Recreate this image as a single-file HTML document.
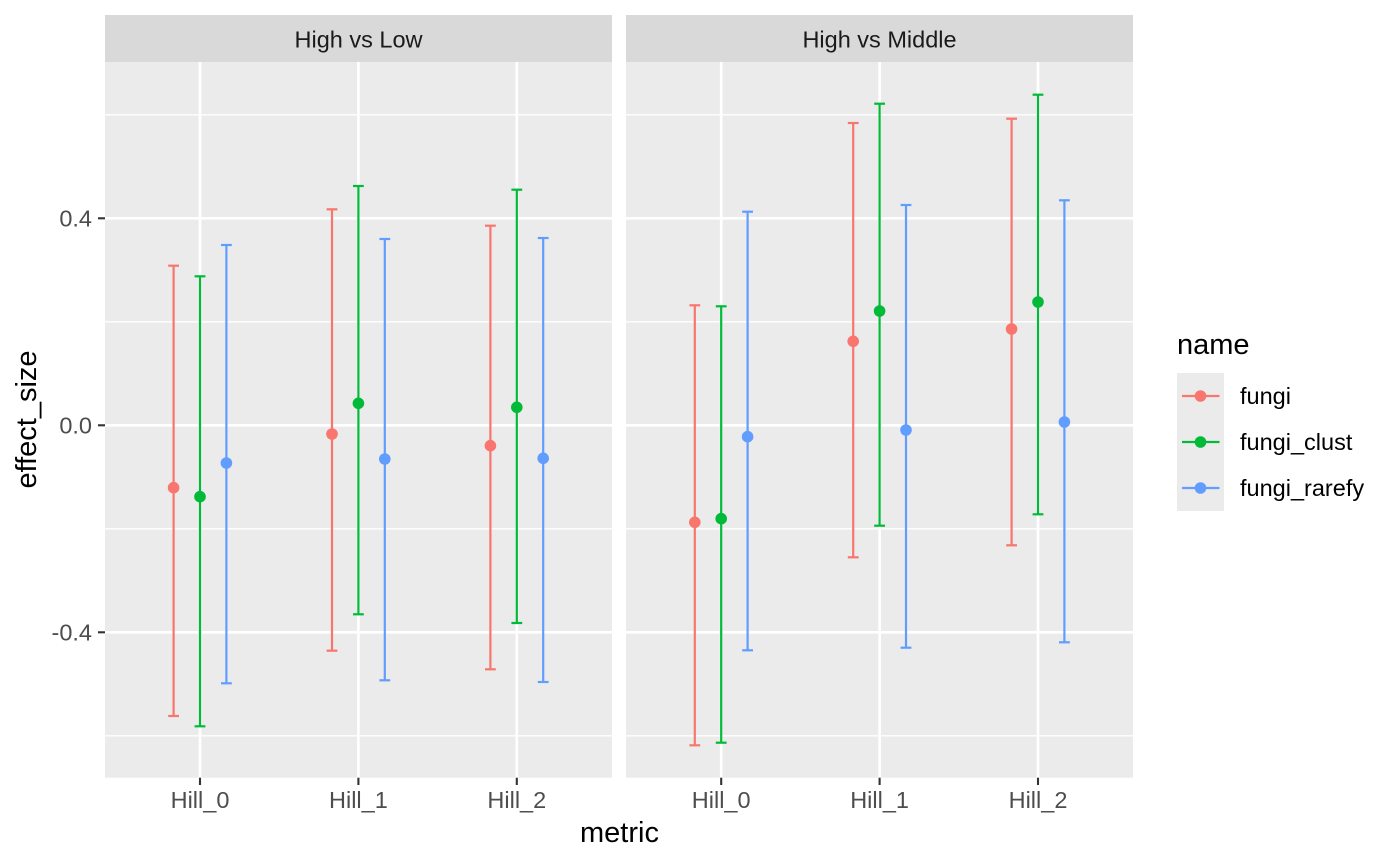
<!DOCTYPE html>
<html>
<head>
<meta charset="utf-8">
<style>
html,body{margin:0;padding:0;background:#fff;}
svg{display:block;}
text{font-family:"Liberation Sans",sans-serif;}
</style>
</head>
<body>
<svg width="1400" height="866" viewBox="0 0 1400 866" xmlns="http://www.w3.org/2000/svg">
<rect x="0" y="0" width="1400" height="866" fill="#ffffff"/>

<!-- Strips -->
<rect x="105" y="15" width="507" height="47" fill="#d9d9d9"/>
<rect x="626" y="15" width="507" height="47" fill="#d9d9d9"/>
<text x="358.5" y="47.5" font-size="23.5" fill="#1a1a1a" text-anchor="middle">High vs Low</text>
<text x="879.5" y="47.5" font-size="23.5" fill="#1a1a1a" text-anchor="middle">High vs Middle</text>

<!-- Panels -->
<rect x="105" y="62" width="507" height="715.7" fill="#ebebeb"/>
<rect x="626" y="62" width="507" height="715.7" fill="#ebebeb"/>

<!-- Minor gridlines -->
<g stroke="#ffffff" stroke-width="1.4">
<line x1="105" x2="612" y1="114.8" y2="114.8"/>
<line x1="105" x2="612" y1="321.8" y2="321.8"/>
<line x1="105" x2="612" y1="528.8" y2="528.8"/>
<line x1="105" x2="612" y1="735.8" y2="735.8"/>
<line x1="626" x2="1133" y1="114.8" y2="114.8"/>
<line x1="626" x2="1133" y1="321.8" y2="321.8"/>
<line x1="626" x2="1133" y1="528.8" y2="528.8"/>
<line x1="626" x2="1133" y1="735.8" y2="735.8"/>
</g>
<!-- Major gridlines -->
<g stroke="#ffffff" stroke-width="2.7">
<line x1="105" x2="612" y1="218.3" y2="218.3"/>
<line x1="105" x2="612" y1="425.3" y2="425.3"/>
<line x1="105" x2="612" y1="632.3" y2="632.3"/>
<line x1="626" x2="1133" y1="218.3" y2="218.3"/>
<line x1="626" x2="1133" y1="425.3" y2="425.3"/>
<line x1="626" x2="1133" y1="632.3" y2="632.3"/>
<line x1="200" x2="200" y1="62" y2="777.7"/>
<line x1="358.4" x2="358.4" y1="62" y2="777.7"/>
<line x1="516.8" x2="516.8" y1="62" y2="777.7"/>
<line x1="721.2" x2="721.2" y1="62" y2="777.7"/>
<line x1="879.6" x2="879.6" y1="62" y2="777.7"/>
<line x1="1038" x2="1038" y1="62" y2="777.7"/>
</g>

<!-- Error bars & points: Panel 1 -->
<g stroke-width="2.2" fill="none">
<!-- Hill_0 -->
<g stroke="#F8766D"><line x1="173.6" x2="173.6" y1="265.7" y2="716"/><line x1="168.2" x2="179" y1="265.7" y2="265.7"/><line x1="168.2" x2="179" y1="716" y2="716"/></g>
<g stroke="#00BA38"><line x1="200" x2="200" y1="276.3" y2="726.3"/><line x1="194.6" x2="205.4" y1="276.3" y2="276.3"/><line x1="194.6" x2="205.4" y1="726.3" y2="726.3"/></g>
<g stroke="#619CFF"><line x1="226.4" x2="226.4" y1="245" y2="683.3"/><line x1="221" x2="231.8" y1="245" y2="245"/><line x1="221" x2="231.8" y1="683.3" y2="683.3"/></g>
<!-- Hill_1 -->
<g stroke="#F8766D"><line x1="332" x2="332" y1="209.3" y2="650.7"/><line x1="326.6" x2="337.4" y1="209.3" y2="209.3"/><line x1="326.6" x2="337.4" y1="650.7" y2="650.7"/></g>
<g stroke="#00BA38"><line x1="358.4" x2="358.4" y1="186" y2="614.3"/><line x1="353" x2="363.8" y1="186" y2="186"/><line x1="353" x2="363.8" y1="614.3" y2="614.3"/></g>
<g stroke="#619CFF"><line x1="384.8" x2="384.8" y1="239" y2="680.3"/><line x1="379.4" x2="390.2" y1="239" y2="239"/><line x1="379.4" x2="390.2" y1="680.3" y2="680.3"/></g>
<!-- Hill_2 -->
<g stroke="#F8766D"><line x1="490.4" x2="490.4" y1="225.7" y2="669.3"/><line x1="485" x2="495.8" y1="225.7" y2="225.7"/><line x1="485" x2="495.8" y1="669.3" y2="669.3"/></g>
<g stroke="#00BA38"><line x1="516.8" x2="516.8" y1="189.7" y2="623"/><line x1="511.4" x2="522.2" y1="189.7" y2="189.7"/><line x1="511.4" x2="522.2" y1="623" y2="623"/></g>
<g stroke="#619CFF"><line x1="543.2" x2="543.2" y1="238" y2="682"/><line x1="537.8" x2="548.6" y1="238" y2="238"/><line x1="537.8" x2="548.6" y1="682" y2="682"/></g>

<!-- Panel 2 -->
<!-- Hill_0 -->
<g stroke="#F8766D"><line x1="694.8" x2="694.8" y1="305.3" y2="745.3"/><line x1="689.4" x2="700.2" y1="305.3" y2="305.3"/><line x1="689.4" x2="700.2" y1="745.3" y2="745.3"/></g>
<g stroke="#00BA38"><line x1="721.2" x2="721.2" y1="306.3" y2="742.7"/><line x1="715.8" x2="726.6" y1="306.3" y2="306.3"/><line x1="715.8" x2="726.6" y1="742.7" y2="742.7"/></g>
<g stroke="#619CFF"><line x1="747.6" x2="747.6" y1="211.7" y2="650.3"/><line x1="742.2" x2="753" y1="211.7" y2="211.7"/><line x1="742.2" x2="753" y1="650.3" y2="650.3"/></g>
<!-- Hill_1 -->
<g stroke="#F8766D"><line x1="853.2" x2="853.2" y1="123" y2="557.3"/><line x1="847.8" x2="858.6" y1="123" y2="123"/><line x1="847.8" x2="858.6" y1="557.3" y2="557.3"/></g>
<g stroke="#00BA38"><line x1="879.6" x2="879.6" y1="103.7" y2="525.7"/><line x1="874.2" x2="885" y1="103.7" y2="103.7"/><line x1="874.2" x2="885" y1="525.7" y2="525.7"/></g>
<g stroke="#619CFF"><line x1="906" x2="906" y1="205" y2="647.7"/><line x1="900.6" x2="911.4" y1="205" y2="205"/><line x1="900.6" x2="911.4" y1="647.7" y2="647.7"/></g>
<!-- Hill_2 -->
<g stroke="#F8766D"><line x1="1011.6" x2="1011.6" y1="118.7" y2="545.3"/><line x1="1006.2" x2="1017" y1="118.7" y2="118.7"/><line x1="1006.2" x2="1017" y1="545.3" y2="545.3"/></g>
<g stroke="#00BA38"><line x1="1038" x2="1038" y1="94.7" y2="514.3"/><line x1="1032.6" x2="1043.4" y1="94.7" y2="94.7"/><line x1="1032.6" x2="1043.4" y1="514.3" y2="514.3"/></g>
<g stroke="#619CFF"><line x1="1064.4" x2="1064.4" y1="200.3" y2="642.3"/><line x1="1059" x2="1069.8" y1="200.3" y2="200.3"/><line x1="1059" x2="1069.8" y1="642.3" y2="642.3"/></g>
</g>

<!-- Points -->
<g>
<circle cx="173.6" cy="487.7" r="5.8" fill="#F8766D"/>
<circle cx="200" cy="496.7" r="5.8" fill="#00BA38"/>
<circle cx="226.4" cy="463" r="5.8" fill="#619CFF"/>
<circle cx="332" cy="434" r="5.8" fill="#F8766D"/>
<circle cx="358.4" cy="403.3" r="5.8" fill="#00BA38"/>
<circle cx="384.8" cy="459" r="5.8" fill="#619CFF"/>
<circle cx="490.4" cy="445.7" r="5.8" fill="#F8766D"/>
<circle cx="516.8" cy="407.3" r="5.8" fill="#00BA38"/>
<circle cx="543.2" cy="458.3" r="5.8" fill="#619CFF"/>

<circle cx="694.8" cy="522.3" r="5.8" fill="#F8766D"/>
<circle cx="721.2" cy="518.7" r="5.8" fill="#00BA38"/>
<circle cx="747.6" cy="436.7" r="5.8" fill="#619CFF"/>
<circle cx="853.2" cy="341.3" r="5.8" fill="#F8766D"/>
<circle cx="879.6" cy="311" r="5.8" fill="#00BA38"/>
<circle cx="906" cy="430" r="5.8" fill="#619CFF"/>
<circle cx="1011.6" cy="329" r="5.8" fill="#F8766D"/>
<circle cx="1038" cy="302" r="5.8" fill="#00BA38"/>
<circle cx="1064.4" cy="422" r="5.8" fill="#619CFF"/>
</g>

<!-- Y axis ticks & labels -->
<g stroke="#333333" stroke-width="2.1">
<line x1="98" x2="105" y1="218.3" y2="218.3"/>
<line x1="98" x2="105" y1="425.3" y2="425.3"/>
<line x1="98" x2="105" y1="632.3" y2="632.3"/>
</g>
<g font-size="23.5" fill="#4d4d4d" text-anchor="end">
<text x="92" y="226.7">0.4</text>
<text x="92" y="433.7">0.0</text>
<text x="92" y="640.7">-0.4</text>
</g>

<!-- X axis ticks & labels -->
<g stroke="#333333" stroke-width="2.1">
<line x1="200" x2="200" y1="777.7" y2="785"/>
<line x1="358.4" x2="358.4" y1="777.7" y2="785"/>
<line x1="516.8" x2="516.8" y1="777.7" y2="785"/>
<line x1="721.2" x2="721.2" y1="777.7" y2="785"/>
<line x1="879.6" x2="879.6" y1="777.7" y2="785"/>
<line x1="1038" x2="1038" y1="777.7" y2="785"/>
</g>
<g font-size="23.5" fill="#4d4d4d" text-anchor="middle">
<text x="200" y="808">Hill_0</text>
<text x="358.4" y="808">Hill_1</text>
<text x="516.8" y="808">Hill_2</text>
<text x="721.2" y="808">Hill_0</text>
<text x="879.6" y="808">Hill_1</text>
<text x="1038" y="808">Hill_2</text>
</g>

<!-- Axis titles -->
<text x="619.5" y="842" font-size="29" fill="#000" text-anchor="middle">metric</text>
<text transform="translate(36,419.5) rotate(-90)" font-size="29" fill="#000" text-anchor="middle">effect_size</text>

<!-- Legend -->
<text x="1177" y="354" font-size="29" fill="#000">name</text>
<rect x="1177" y="373" width="47" height="138" fill="#ebebeb"/>
<g stroke-width="2.2">
<line x1="1182" x2="1219.5" y1="396" y2="396" stroke="#F8766D"/>
<line x1="1182" x2="1219.5" y1="442" y2="442" stroke="#00BA38"/>
<line x1="1182" x2="1219.5" y1="488" y2="488" stroke="#619CFF"/>
</g>
<circle cx="1200.5" cy="396" r="5.8" fill="#F8766D"/>
<circle cx="1200.5" cy="442" r="5.8" fill="#00BA38"/>
<circle cx="1200.5" cy="488" r="5.8" fill="#619CFF"/>
<g font-size="23.5" fill="#000">
<text x="1240" y="404">fungi</text>
<text x="1240" y="450">fungi_clust</text>
<text x="1240" y="496">fungi_rarefy</text>
</g>
</svg>
</body>
</html>
